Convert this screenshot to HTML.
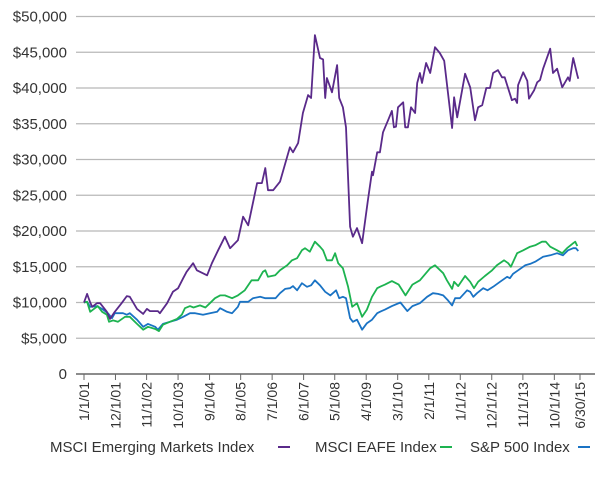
<!DOCTYPE html>
<html><head><meta charset="utf-8"><style>
body{margin:0;background:#fff}
svg{display:block;font-family:"Liberation Sans",sans-serif}
</style></head><body>
<svg id="chart" width="605" height="491"></svg>
<script>
const yTicks=[0,5000,10000,15000,20000,25000,30000,35000,40000,45000,50000];
const yTickLabels=["0","$5,000","$10,000","$15,000","$20,000","$25,000","$30,000","$35,000","$40,000","$45,000","$50,000"];
const xTickYears=[2001.0,2001.92,2002.83,2003.75,2004.67,2005.58,2006.5,2007.42,2008.33,2009.25,2010.17,2011.08,2012.0,2012.92,2013.83,2014.75,2015.5];
const xTickLabels=["1/1/01","12/1/01","11/1/02","10/1/03","9/1/04","8/1/05","7/1/06","6/1/07","5/1/08","4/1/09","3/1/10","2/1/11","1/1/12","12/1/12","11/1/13","10/1/14","6/30/15"];
const seriesNames=["MSCI Emerging Markets Index","MSCI EAFE Index","S&P 500 Index"];
const emYears=[2001.0,2001.09,2001.18,2001.24,2001.38,2001.47,2001.67,2001.76,2001.9,2002.1,2002.25,2002.34,2002.55,2002.73,2002.84,2002.93,2003.16,2003.22,2003.43,2003.6,2003.75,2003.9,2004.0,2004.19,2004.3,2004.6,2004.74,2004.92,2005.12,2005.27,2005.5,2005.65,2005.8,2006.0,2006.06,2006.2,2006.3,2006.38,2006.53,2006.73,2006.94,2007.02,2007.11,2007.26,2007.4,2007.55,2007.64,2007.75,2007.9,2007.99,2008.05,2008.1,2008.25,2008.4,2008.46,2008.57,2008.66,2008.78,2008.86,2008.98,2009.13,2009.22,2009.3,2009.42,2009.45,2009.57,2009.65,2009.74,2009.89,2010.0,2010.06,2010.12,2010.18,2010.33,2010.39,2010.47,2010.56,2010.68,2010.74,2010.82,2010.88,2011.0,2011.12,2011.26,2011.4,2011.53,2011.76,2011.82,2011.91,2012.14,2012.29,2012.43,2012.52,2012.64,2012.76,2012.87,2012.96,2013.1,2013.22,2013.3,2013.51,2013.6,2013.66,2013.69,2013.84,2013.96,2014.01,2014.16,2014.25,2014.33,2014.42,2014.63,2014.71,2014.83,2014.98,2015.15,2015.2,2015.3,2015.42,2015.45];
const emValues=[10000,11200,10000,9400,9900,9900,8700,7700,8700,9900,10900,10800,9100,8400,9100,8800,8800,8500,9900,11500,12000,13400,14300,15500,14500,13800,15500,17300,19200,17600,18700,22000,20800,25300,26700,26700,28800,25700,25700,26900,30400,31700,31000,32300,36500,39000,38600,47400,44200,44000,38600,41400,39400,43200,38600,37300,34500,20600,19200,20400,18300,21500,24300,28300,27800,31000,31000,33800,35500,36800,34500,34600,37300,38000,34500,34500,37300,36500,40700,42100,40700,43500,42100,45700,44900,43800,34400,38700,35900,42000,40100,35500,37300,37600,40000,40000,42100,42500,41500,41500,38300,38500,37900,40400,42200,41000,38500,39700,40800,41100,42700,45500,42100,42700,40100,41500,41000,44200,41800,41300];
const eafeYears=[2001.0,2001.09,2001.18,2001.32,2001.4,2001.53,2001.67,2001.73,2001.85,2001.99,2002.2,2002.34,2002.55,2002.73,2002.87,2003.08,2003.19,2003.31,2003.51,2003.72,2003.86,2003.95,2004.1,2004.2,2004.39,2004.55,2004.68,2004.83,2004.98,2005.12,2005.33,2005.5,2005.7,2005.9,2006.09,2006.23,2006.3,2006.38,2006.59,2006.73,2006.94,2007.08,2007.23,2007.37,2007.46,2007.6,2007.75,2007.9,2007.99,2008.1,2008.25,2008.34,2008.43,2008.57,2008.72,2008.84,2008.98,2009.13,2009.27,2009.42,2009.57,2009.65,2009.8,2010.0,2010.2,2010.4,2010.6,2010.82,2011.12,2011.26,2011.5,2011.61,2011.76,2011.82,2011.94,2012.14,2012.29,2012.4,2012.52,2012.72,2012.93,2013.07,2013.28,2013.4,2013.48,2013.66,2013.84,2014.04,2014.19,2014.39,2014.5,2014.63,2014.83,2014.98,2015.12,2015.3,2015.36,2015.42];
const eafeValues=[10000,10100,8700,9200,9500,8700,8300,7300,7500,7300,8000,8000,7000,6200,6600,6300,6000,6900,7300,7700,8300,9200,9500,9300,9600,9300,9900,10600,11000,11000,10600,11000,11700,13100,13100,14300,14500,13600,13800,14500,15200,15900,16200,17300,17600,17100,18500,17800,17300,15900,15900,16900,15500,14800,12200,9400,9900,8000,9000,10800,12000,12200,12500,13000,12500,11000,12500,13100,14800,15200,14100,13100,11900,12900,12300,13700,12900,12000,12900,13700,14500,15200,15900,15500,15000,16900,17300,17800,18000,18500,18500,17800,17300,16900,17600,18300,18500,17900];
const spYears=[2001.0,2001.09,2001.18,2001.38,2001.53,2001.7,2001.82,2001.9,2002.14,2002.25,2002.34,2002.55,2002.73,2002.87,2003.08,2003.16,2003.31,2003.51,2003.72,2003.9,2004.1,2004.25,2004.48,2004.68,2004.89,2004.98,2005.18,2005.33,2005.5,2005.56,2005.8,2005.94,2006.15,2006.3,2006.44,2006.6,2006.73,2006.88,2007.02,2007.11,2007.23,2007.37,2007.52,2007.64,2007.75,2007.9,2008.05,2008.2,2008.37,2008.46,2008.57,2008.66,2008.78,2008.86,2008.98,2009.13,2009.27,2009.42,2009.57,2009.65,2009.8,2010.0,2010.25,2010.45,2010.6,2010.82,2011.03,2011.2,2011.35,2011.5,2011.64,2011.76,2011.85,2011.99,2012.2,2012.29,2012.38,2012.49,2012.67,2012.8,2012.96,2013.16,2013.37,2013.45,2013.54,2013.69,2013.9,2014.04,2014.19,2014.42,2014.63,2014.83,2015.0,2015.15,2015.3,2015.38,2015.45];
const spValues=[10000,10100,9400,9500,9100,8500,7800,8500,8500,8300,8500,7600,6600,7000,6600,6200,7000,7300,7600,8000,8500,8500,8300,8500,8700,9200,8700,8500,9400,10100,10100,10600,10800,10600,10600,10600,11300,11900,12000,12300,11700,12700,12200,12400,13100,12400,11500,11000,11700,10600,10800,10600,7800,7300,7600,6200,7100,7600,8500,8700,9000,9500,10000,8800,9500,9900,10800,11300,11200,11000,10300,9600,10600,10600,11700,11500,10800,11300,12000,11700,12200,12900,13600,13400,14000,14500,15200,15400,15700,16400,16600,16900,16600,17300,17600,17600,17200];

const NS="http://www.w3.org/2000/svg";
const svg=document.getElementById('chart');
const X0=84,X1=580,Y0=374;
function xs(yr){return X0+(yr-2001.0)*(X1-X0)/(2015.5-2001.0);}
function ys(v){return Y0-v*0.00715;}
function mk(t,a,p){const e=document.createElementNS(NS,t);for(const k in a)e.setAttribute(k,a[k]);(p||svg).appendChild(e);return e;}

yTicks.forEach((v,i)=>{
  if(i>0){const g=mk('line',{x1:76,x2:595,y1:ys(v),y2:ys(v),stroke:'#b8b8b8','stroke-width':1.2});
  
  }
  const t=mk('text',{x:67,y:ys(v)+5,'text-anchor':'end','font-size':15,fill:'#333'});
  t.textContent=yTickLabels[i];
  
  
});
const ax=mk('line',{x1:76,x2:595,y1:Y0,y2:Y0,stroke:'#666','stroke-width':1.5});


xTickYears.forEach((yr,i)=>{
  const x=xs(yr);
  const tk=mk('line',{x1:x,x2:x,y1:Y0,y2:Y0+6,stroke:'#666','stroke-width':1});
  
  
  const t=mk('text',{x:0,y:0,'text-anchor':'end','font-size':14,fill:'#333',transform:`translate(${x+5},382) rotate(-90)`});
  t.textContent=xTickLabels[i];
  
  
});
function line(yrs,vals,color,name){
  const d=yrs.map((y,i)=>(i?'L':'M')+xs(y).toFixed(1)+' '+ys(vals[i]).toFixed(1)).join(' ');
  const p=mk('path',{d:d,fill:'none',stroke:color,'stroke-width':1.8,'stroke-linejoin':'round'});
  
  
}
line(spYears,spValues,'#1a73c4','sp500-line');
line(eafeYears,eafeValues,'#1db350','eafe-line');
line(emYears,emValues,'#5a2a8a','emerging-markets-line');

const legend=[[50,278,'#5a2a8a'],[315,440,'#1db350'],[470,578,'#1a73c4']];
legend.forEach((l,i)=>{
  const t=mk('text',{x:l[0],y:452,'font-size':15,fill:'#333'});
  t.textContent=seriesNames[i];
  
  
  const s=mk('line',{x1:l[1],x2:l[1]+12,y1:447,y2:447,stroke:l[2],'stroke-width':2});
  
  
});
</script>
</body></html>
